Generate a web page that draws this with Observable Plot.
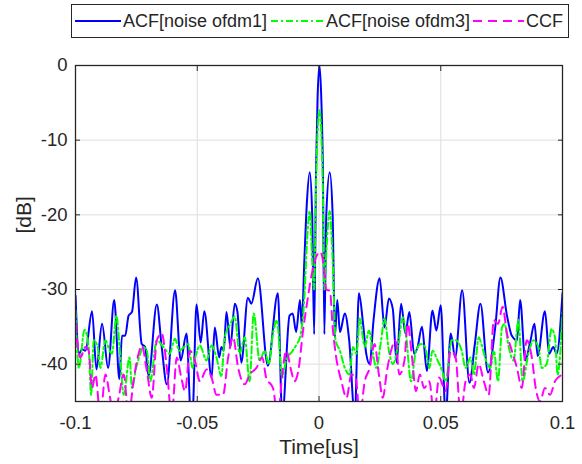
<!DOCTYPE html>
<html>
<head>
<meta charset="utf-8">
<script src="https://cdn.jsdelivr.net/npm/d3@7"></script>
<script src="https://cdn.jsdelivr.net/npm/@observablehq/plot@0.6"></script>
<style>
  body { margin: 0; background: #fff; font-family: "Liberation Sans", Arial, sans-serif; color: #262626; }
  #wrap { width: 582px; height: 464px; position: relative; }
  #legend { position: relative; width: 582px; height: 40px; }
  #legend .box { position: absolute; left: 71px; top: 4px; width: 496px; height: 32px; border: 1.2px solid #262626; background: #fff; }
  #legend .sw { position: absolute; top: 11px; }
  #legend .lab { position: absolute; top: 4px; font-size: 18px; line-height: 34px; height: 34px; white-space: nowrap; color: #262626; }
  #chart svg { display: block; }
</style>
</head>
<body>
<div id="wrap">
  <div id="legend"></div>
  <div id="chart"></div>
</div>
<script>
// ---- data ----
const xTicks = [-0.1, -0.05, 0, 0.05, 0.1];
const yTicks = [0, -10, -20, -30, -40];
const seriesNames = ["ACF[noise ofdm1]", "ACF[noise ofdm3]", "CCF"];

// ACF[noise ofdm1] (blue solid): time [us], level [dB]
const acf1T = [-0.1000,-0.0986,-0.0973,-0.0959,-0.0932,-0.0914,-0.0891,-0.0866,-0.0841,-0.0820,-0.0809,-0.0796,-0.0782,-0.0768,-0.0751,-0.0728,-0.0714,-0.0700,-0.0666,-0.0646,-0.0625,-0.0591,-0.0568,-0.0544,-0.0526,-0.0520,-0.0503,-0.0486,-0.0471,-0.0441,-0.0428,-0.0410,-0.0401,-0.0391,-0.0380,-0.0364,-0.0346,-0.0335,-0.0319,-0.0292,-0.0278,-0.0251,-0.0210,-0.0169,-0.0151,-0.0121,-0.0108,-0.0094,-0.0078,-0.0071,-0.0060,-0.0050,-0.0038,-0.0028,-0.0020,-0.0012,-0.0006,0.0002,0.0010,0.0016,0.0022,0.0030,0.0044,0.0056,0.0065,0.0075,0.0086,0.0106,0.0124,0.0147,0.0164,0.0181,0.0194,0.0208,0.0224,0.0249,0.0269,0.0287,0.0303,0.0319,0.0337,0.0355,0.0371,0.0391,0.0405,0.0423,0.0443,0.0466,0.0482,0.0500,0.0520,0.0541,0.0559,0.0588,0.0618,0.0640,0.0663,0.0694,0.0724,0.0745,0.0772,0.0792,0.0813,0.0826,0.0847,0.0867,0.0885,0.0898,0.0928,0.0945,0.0962,0.0976,0.1000];
const acf1DB = [-30.8,-38.6,-38.0,-38.2,-32.9,-40.7,-34.6,-40.5,-31.4,-42.0,-36.2,-36.2,-33.5,-33.0,-28.4,-37.3,-37.7,-41.6,-32.0,-37.7,-42.7,-30.1,-39.5,-35.9,-47,-47,-32.0,-37.1,-32.9,-41.8,-35.1,-39.1,-37.7,-38.2,-33.0,-37.7,-31.9,-33.0,-39.8,-31.1,-31.9,-28.5,-40.2,-30.5,-47,-33.5,-33.2,-35.7,-31.4,-34.8,-26,-18.5,-14.3,-20,-36,-14,-4.5,0,-5,-14,-36,-20,-14.3,-20,-36.4,-31.4,-35.7,-33.2,-36.8,-47,-30.5,-34.6,-38.6,-40.0,-34.1,-28.5,-35.1,-31.2,-32.6,-39.8,-31.9,-35.9,-33.0,-38.6,-37.7,-35.0,-40.9,-32.8,-35.5,-32.1,-47,-35.9,-39.1,-30.1,-42.5,-37.3,-31.9,-41.1,-35.0,-28.4,-33.5,-36.2,-36.8,-31.4,-39.5,-37.1,-34.6,-38.9,-32.9,-38.6,-37.7,-38.6,-30.5];

// ACF[noise ofdm3] (green dash-dot)
const acf3T = [-0.1000,-0.0986,-0.0963,-0.0946,-0.0936,-0.0925,-0.0909,-0.0898,-0.0877,-0.0860,-0.0850,-0.0832,-0.0819,-0.0802,-0.0778,-0.0768,-0.0751,-0.0734,-0.0721,-0.0707,-0.0693,-0.0666,-0.0639,-0.0614,-0.0591,-0.0574,-0.0554,-0.0537,-0.0519,-0.0510,-0.0489,-0.0462,-0.0441,-0.0421,-0.0401,-0.0387,-0.0364,-0.0346,-0.0326,-0.0305,-0.0285,-0.0268,-0.0244,-0.0223,-0.0206,-0.0189,-0.0173,-0.0151,-0.0135,-0.0108,-0.0091,-0.0078,-0.0060,-0.0050,-0.0038,-0.0028,-0.0020,-0.0012,-0.0006,0.0002,0.0010,0.0016,0.0022,0.0030,0.0044,0.0056,0.0068,0.0086,0.0106,0.0124,0.0140,0.0154,0.0167,0.0188,0.0205,0.0222,0.0235,0.0255,0.0269,0.0287,0.0303,0.0328,0.0344,0.0357,0.0378,0.0398,0.0419,0.0436,0.0453,0.0466,0.0487,0.0504,0.0520,0.0545,0.0561,0.0586,0.0602,0.0622,0.0636,0.0656,0.0667,0.0684,0.0704,0.0718,0.0735,0.0752,0.0762,0.0779,0.0799,0.0819,0.0836,0.0860,0.0881,0.0901,0.0915,0.0935,0.0955,0.0969,0.0980,0.1000];
const acf3DB = [-32.8,-40.5,-35.4,-37.7,-44.1,-36.8,-37.7,-40.5,-36.8,-38.2,-38.6,-33.5,-37.7,-44.1,-39.1,-43.2,-40.5,-38.6,-37.7,-38.2,-42.3,-36.8,-37.7,-38.6,-36.6,-38.2,-37.7,-37.3,-40.5,-39.3,-37.5,-39.5,-37.5,-39.1,-41.6,-36.4,-34.6,-33.6,-38.6,-36.4,-42.3,-33.2,-39.5,-38.2,-40.0,-35.9,-34.1,-41.8,-39.5,-38.2,-37.3,-36.4,-31,-24,-19.5,-26,-30,-16,-9,-6,-9.5,-17,-30,-25,-19.5,-26,-36.8,-38.2,-40.5,-41.4,-37.7,-38.6,-33.9,-37.7,-35.5,-38.6,-40.5,-36.8,-33.9,-38.2,-40.0,-36.8,-33.7,-35.9,-42.3,-38.2,-37.3,-37.7,-40.5,-38.2,-39.5,-40.7,-42.3,-36.8,-36.8,-38.2,-40.5,-39.1,-41.4,-36.4,-37.3,-39.3,-40.5,-38.2,-42.3,-35.0,-34.6,-37.7,-39.5,-34.1,-42.3,-38.6,-36.8,-37.7,-40.5,-40.0,-35.3,-36.4,-41.4,-33.0];

// CCF (magenta dashed)
const ccfT = [-0.1000,-0.0980,-0.0959,-0.0946,-0.0932,-0.0918,-0.0898,-0.0877,-0.0860,-0.0843,-0.0823,-0.0802,-0.0782,-0.0762,-0.0741,-0.0728,-0.0707,-0.0687,-0.0666,-0.0646,-0.0625,-0.0605,-0.0584,-0.0568,-0.0550,-0.0530,-0.0510,-0.0489,-0.0462,-0.0441,-0.0421,-0.0394,-0.0373,-0.0353,-0.0332,-0.0305,-0.0285,-0.0257,-0.0233,-0.0217,-0.0189,-0.0169,-0.0151,-0.0135,-0.0114,-0.0101,-0.0083,-0.0067,-0.0050,-0.0030,-0.0010,0.0006,0.0018,0.0030,0.0045,0.0056,0.0068,0.0092,0.0113,0.0133,0.0151,0.0167,0.0188,0.0208,0.0228,0.0246,0.0262,0.0279,0.0296,0.0314,0.0330,0.0351,0.0364,0.0382,0.0398,0.0414,0.0432,0.0453,0.0473,0.0493,0.0520,0.0541,0.0561,0.0582,0.0602,0.0622,0.0636,0.0656,0.0677,0.0697,0.0718,0.0735,0.0754,0.0772,0.0792,0.0813,0.0833,0.0853,0.0874,0.0890,0.0908,0.0928,0.0949,0.0969,0.1000];
const ccfDB = [-34.6,-39.1,-37.7,-38.2,-43.2,-41.4,-47,-41.4,-44.1,-47,-44.5,-41.4,-47,-42.3,-38.6,-37.5,-40.9,-44.5,-36.8,-35.9,-40.5,-47,-39.1,-41.4,-43.6,-38.2,-39.5,-42.3,-40.7,-41.8,-44.1,-44.1,-39.1,-36.4,-40.5,-42.7,-41.4,-40.5,-39.1,-41.8,-43.2,-47,-41.4,-38.2,-40.9,-42.3,-40.5,-35.9,-32,-28,-25.5,-25,-26.5,-30,-30.2,-35,-38.5,-42.3,-44.5,-41.4,-41.8,-47,-42.3,-40.5,-37.3,-41.4,-44.5,-40.9,-38.2,-36.8,-41.4,-39.5,-34.6,-39.1,-43.6,-41.4,-43.2,-42.3,-47,-41.8,-43.6,-38.2,-39.1,-47,-42.3,-41.4,-43.2,-40.0,-42.3,-44.1,-34.1,-34.6,-32.3,-35.9,-38.2,-40.5,-43.2,-36.8,-39.1,-43.2,-45,-43.2,-44.1,-42.3,-41.4];

const colors = ["#0000ff", "#00ff00", "#ff00ff"];
const dashes = [null, "7,3,2,3", "9,6"];

const toRows = (ts, ys) => ts.map((t, i) => ({t, db: ys[i]}));
const acf1 = toRows(acf1T, acf1DB);
const acf3 = toRows(acf3T, acf3DB);
const ccf = toRows(ccfT, ccfDB);

const fmt = d => String(d);
const font = '"Liberation Sans", Arial, sans-serif';

const chart = Plot.plot({
  width: 582,
  height: 424,
  marginLeft: 75,
  marginRight: 20,
  marginTop: 25,
  marginBottom: 63,
  style: {fontFamily: font, fontSize: "18.5px", color: "#262626", background: "white", overflow: "visible"},
  x: {domain: [-0.1, 0.1]},
  y: {domain: [-45, 0]},
  marks: [
    Plot.gridX(xTicks, {stroke: "#dedede", strokeOpacity: 1, strokeWidth: 1}),
    Plot.gridY(yTicks, {stroke: "#dedede", strokeOpacity: 1, strokeWidth: 1}),
    Plot.line(acf1, {x: "t", y: "db", stroke: colors[0], strokeWidth: 2, curve: "monotone-x", clip: true}),
    Plot.line(acf3, {x: "t", y: "db", stroke: colors[1], strokeWidth: 2, strokeDasharray: dashes[1], curve: "monotone-x", clip: true}),
    Plot.line(ccf, {x: "t", y: "db", stroke: colors[2], strokeWidth: 2, strokeDasharray: dashes[2], curve: "monotone-x", clip: true}),
    Plot.frame({stroke: "#262626", strokeWidth: 1.3}),
    Plot.axisX(xTicks, {anchor: "bottom", tickSize: 0, tickPadding: 14, tickFormat: fmt, label: null, fontSize: 18.5}),
    Plot.axisX(xTicks, {anchor: "bottom", tickSize: -5, fill: "none", label: null, stroke: "#262626"}),
    Plot.axisX(xTicks, {anchor: "top", tickSize: -5, fill: "none", label: null, stroke: "#262626"}),
    Plot.axisY(yTicks, {anchor: "left", tickSize: 0, tickPadding: 8, tickFormat: fmt, label: null, fontSize: 18.5}),
    Plot.axisY(yTicks, {anchor: "left", tickSize: -5, fill: "none", label: null, stroke: "#262626"}),
    Plot.axisY(yTicks, {anchor: "right", tickSize: -5, fill: "none", label: null, stroke: "#262626"}),
    Plot.text(["Time[us]"], {frameAnchor: "bottom", dy: 46, lineAnchor: "middle", fontSize: 21, fill: "#262626"}),
    Plot.text(["[dB]"], {frameAnchor: "left", dx: -51, rotate: -90, fontSize: 21, fill: "#262626"})
  ]
});
document.getElementById("chart").appendChild(chart);

// legend (HTML, above the SVG)
const legend = document.getElementById("legend");
const box = document.createElement("div");
box.className = "box";
legend.appendChild(box);
const swatchX = [75, 271, 473];
const swatchW = [46, 52, 51];
const labelX = [123, 326, 526];
seriesNames.forEach((name, i) => {
  const sw = document.createElementNS("http://www.w3.org/2000/svg", "svg");
  sw.setAttribute("class", "sw");
  sw.setAttribute("width", swatchW[i]);
  sw.setAttribute("height", 20);
  sw.style.left = swatchX[i] + "px";
  const ln = document.createElementNS("http://www.w3.org/2000/svg", "line");
  ln.setAttribute("x1", 0); ln.setAttribute("x2", swatchW[i]);
  ln.setAttribute("y1", 10); ln.setAttribute("y2", 10);
  ln.setAttribute("stroke", colors[i]);
  ln.setAttribute("stroke-width", 2);
  if (dashes[i]) ln.setAttribute("stroke-dasharray", dashes[i]);
  sw.appendChild(ln);
  legend.appendChild(sw);
  const lab = document.createElement("div");
  lab.className = "lab";
  lab.style.left = labelX[i] + "px";
  lab.textContent = name;
  legend.appendChild(lab);
});
</script>
</body>
</html>
